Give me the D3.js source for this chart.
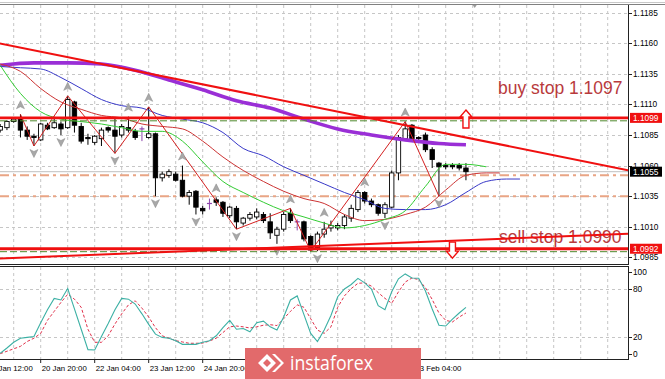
<!DOCTYPE html>
<html><head><meta charset="utf-8">
<script src="https://cdn.jsdelivr.net/npm/d3@7"></script>
<style>body{margin:0;background:#fff;}svg{display:block;}</style>
</head><body>
<svg id="c" width="665" height="379"></svg>
<script>
// ---------- DATA ----------
const opens  = [1.1089,1.1091,1.1096,1.1099,1.1089,1.1084,1.1081,1.1093,1.1091,1.1094,1.1091,1.1112,1.1092,1.1083,1.1079,1.1082,1.1091,1.1089,1.1085,1.1091,1.1088,1.1090,1.1083,1.1086,1.1050,1.1052,1.1053,1.1048,1.1035,1.1039,1.1025,1.1029,1.1032,1.1030,1.1019,1.1025,1.1013,1.1017,1.1018,1.1020,1.1014,1.1003,1.1008,1.1021,1.1014,1.1014,1.1002,1.0993,1.1004,1.1009,1.1009,1.1011,1.1017,1.1024,1.1038,1.1031,1.1028,1.1021,1.1026,1.1054,1.1082,1.1093,1.1083,1.1085,1.1073,1.1062,1.1060,1.1060,1.1060,1.1058];
const highs  = [1.1094,1.1097,1.1099,1.1102,1.1092,1.1086,1.1095,1.1095,1.1100,1.1096,1.1117,1.1113,1.1095,1.1086,1.1085,1.1091,1.1092,1.1099,1.1094,1.1100,1.1090,1.1092,1.1108,1.1087,1.1055,1.1057,1.1055,1.1060,1.1040,1.1040,1.1027,1.1033,1.1034,1.1031,1.1027,1.1027,1.1018,1.1022,1.1025,1.1022,1.1021,1.1010,1.1022,1.1025,1.1016,1.1015,1.1003,1.1006,1.1014,1.1015,1.1013,1.1020,1.1028,1.1040,1.1039,1.1033,1.1029,1.1030,1.1056,1.1085,1.1096,1.1094,1.1084,1.1087,1.1075,1.1063,1.1062,1.1062,1.1062,1.1062];
const lows   = [1.1087,1.1089,1.1095,1.1083,1.1081,1.1076,1.1080,1.1089,1.1090,1.1085,1.1090,1.1087,1.1078,1.1077,1.1077,1.1076,1.1087,1.1070,1.1083,1.1087,1.1081,1.1080,1.1082,1.1035,1.1047,1.1050,1.1047,1.1034,1.1028,1.1020,1.1020,1.1024,1.1027,1.1018,1.1017,1.1008,1.1011,1.1015,1.1016,1.1013,1.1000,1.0996,1.1006,1.1013,1.1007,1.0998,1.0990,1.0990,1.1001,1.1006,1.1007,1.1008,1.1014,1.1022,1.1029,1.1026,1.1019,1.1017,1.1025,1.1048,1.1080,1.1080,1.1081,1.1071,1.1058,1.1035,1.1057,1.1057,1.1056,1.1048];
const closes = [1.1092,1.1096,1.1098,1.1089,1.1084,1.1083,1.1094,1.1090,1.1095,1.1090,1.1114,1.1093,1.1080,1.1082,1.1084,1.1089,1.1089,1.1084,1.1092,1.1089,1.1083,1.1090,1.1086,1.1050,1.1053,1.1055,1.1048,1.1035,1.1038,1.1026,1.1023,1.1029,1.1030,1.1021,1.1026,1.1014,1.1017,1.1020,1.1022,1.1015,1.1005,1.1008,1.1020,1.1015,1.1014,1.1000,1.0991,1.1004,1.1008,1.1011,1.1011,1.1018,1.1025,1.1038,1.1031,1.1028,1.1021,1.1028,1.1054,1.1083,1.1090,1.1082,1.1082,1.1073,1.1065,1.1059,1.1059,1.1059,1.1058,1.1055];

const priceTicks = [1.1185,1.1160,1.1135,1.1110,1.1085,1.1060,1.1035,1.1010,1.0985];
const timeLabels = ["17 Jan 12:00","20 Jan 20:00","22 Jan 04:00","23 Jan 12:00","24 Jan 20:00","28 Jan 04:00","29 Jan 12:00","30 Jan 20:00","3 Feb 04:00"];
const timeLabelBars = [-2,6,14,22,30,38,46,54,62];

// thick purple moving average
const maBars = [0,5,10,15,20,25,30,35,40,45,50,55,60,65,69];
const maVals = [1.1142,1.1144,1.1144,1.1143,1.1138,1.1130,1.1122,1.1113,1.1107,1.1098,1.1090,1.1085,1.1081,1.1078,1.1077];

// Alligator (jaw / teeth / lips), shifted forward
const jawBars = [0,3,6,9,12,15,18,21,24,27,30,33,36,39,42,45,48,51,54,57,60,63,66,69,72,75,77];
const jawVals = [1.1141,1.1140,1.1139,1.1132,1.1123,1.1114,1.1109,1.1107,1.1101,1.1098,1.1095,1.1087,1.1074,1.1068,1.1059,1.1052,1.1045,1.1038,1.1032,1.1025,1.1024,1.1024,1.1028,1.1038,1.1047,1.1049,1.1049];
const teethBars = [0,3,6,9,12,15,18,21,24,27,30,33,36,39,42,45,48,51,54,57,60,63,66,69,72,74];
const teethVals = [1.1143,1.1137,1.1123,1.1112,1.1106,1.1101,1.1099,1.1094,1.1092,1.1090,1.1080,1.1067,1.1056,1.1047,1.1039,1.1033,1.1029,1.1020,1.1015,1.1016,1.1020,1.1026,1.1040,1.1052,1.1054,1.1054];
const lipsBars = [0,3,6,9,12,15,18,21,24,27,30,33,36,39,42,45,48,51,54,57,60,63,66,69,72];
const lipsVals = [1.1142,1.1119,1.1104,1.1098,1.1096,1.1094,1.1091,1.1088,1.1088,1.1080,1.1063,1.1047,1.1038,1.1030,1.1023,1.1018,1.1013,1.1009,1.1011,1.1016,1.1023,1.1043,1.1061,1.1061,1.1059];

const fractalUp = [3,10,19,22,27,32,43,48,54,60];
const fractalDown = [5,9,17,23,29,35,41,47,57,65];
const zigzagBars = [3,5,10,17,22,35,43,46,60,65];
const zigzagVals = [1.1102,1.1076,1.1117,1.1070,1.1108,1.1008,1.1025,1.0990,1.1096,1.1035];

// stochastic
const stochMain = [0.5,7,14,19,20,21,38,54,68,66,80,55,30,5,4.5,21,37,54,68,67,61,49,36,24,20,19,16,11.5,11.5,11.5,14,16,22,32,41,30,31,27,38,40,33,29,45,66,71,48,25,15,29,47,70,79.5,85,92.6,87,79.5,59,54,76,92,98,93,92.6,77,55,35,34,42.6,50,57];
const stochSignal = [0,3,6,9,15,19,25,41,52,63,73,67,57,30,14,14,22,36.5,49,60,65,56,45,32,22,19,16,14.4,12.8,12.8,13,15.6,19,26,33,34,33,31.6,33,35,35.6,34.6,43,52,60,57,43,29,25,33,57,71,80,86.5,87,83,75,68,62,76,88,93,91,81,66.6,50,41,39,45,50];
const stochLevels = [80,20];
const stochLabels = [100,80,20,0];

// chart objects
const hLinesRed = [1.1099,1.0992];
const pendingLines = [1.1097,1.0990];
const dashDotLines = [1.1052,1.1035];
const bid = 1.1055;
const trendDown = [[0,1.1160],[69,1.1083]];
const trendUp = [[0,1.0984],[69,1.0999]];

// ---------- SCALES ----------
const svg = d3.select("#c");
const W = 628;
const x = d3.scaleLinear().domain([0,69]).range([0.2, 0.2+69*6.75]);
const y = d3.scaleLinear().domain([1.0985,1.1185]).range([257.3,12.7]);
const ys = d3.scaleLinear().domain([0,100]).range([353.7,272.3]);
const fmt = d3.format(".4f");

const defs = svg.append("defs");
defs.append("clipPath").attr("id","cm").append("rect").attr("x",0).attr("y",5).attr("width",W).attr("height",258);
defs.append("clipPath").attr("id","cs").append("rect").attr("x",0).attr("y",267).attr("width",W).attr("height",92);

const gm = svg.append("g").attr("clip-path","url(#cm)");
const gs = svg.append("g").attr("clip-path","url(#cs)");

// grid
const gridBars = d3.range(2, 94, 4);
const gridCol = "#c6c6c6";
gm.selectAll("line.vg").data(gridBars).join("line")
  .attr("x1",d=>x(d)).attr("x2",d=>x(d)).attr("y1",5).attr("y2",263)
  .attr("stroke",gridCol).attr("stroke-dasharray","3,3");
gm.selectAll("line.hg").data(priceTicks).join("line")
  .attr("x1",0).attr("x2",W).attr("y1",d=>Math.round(y(d))+0.5).attr("y2",d=>Math.round(y(d))+0.5)
  .attr("stroke",gridCol).attr("stroke-dasharray","3,3");
gs.selectAll("line.vg").data(gridBars).join("line")
  .attr("x1",d=>x(d)).attr("x2",d=>x(d)).attr("y1",267).attr("y2",359)
  .attr("stroke",gridCol).attr("stroke-dasharray","3,3");
gs.selectAll("line.hg").data(stochLevels).join("line")
  .attr("x1",0).attr("x2",W).attr("y1",d=>Math.round(ys(d))+0.5).attr("y2",d=>Math.round(ys(d))+0.5)
  .attr("stroke",gridCol).attr("stroke-dasharray","3,3");

// bid line & dash-dot levels
gm.append("line").attr("x1",0).attr("x2",W).attr("y1",y(bid)).attr("y2",y(bid)).attr("stroke","#c0c0c0");
gm.selectAll("line.dd").data(dashDotLines).join("line")
  .attr("x1",0).attr("x2",W).attr("y1",d=>y(d)).attr("y2",d=>y(d))
  .attr("stroke","#e9a585").attr("stroke-width",2).attr("stroke-dasharray","9,4,3,4");

// candles
const bars = d3.range(opens.length);
const cg = gm.append("g");
cg.selectAll("line.w").data(bars).join("line")
  .attr("x1",i=>x(i)).attr("x2",i=>x(i)).attr("y1",i=>y(highs[i])).attr("y2",i=>y(lows[i]))
  .attr("stroke",i=>opens[i]===closes[i]?"#8e44ad":"#000").attr("stroke-width",1);
cg.selectAll("rect.b").data(bars.filter(i=>opens[i]!==closes[i])).join("rect")
  .attr("x",i=>x(i)-2.2).attr("width",4.4)
  .attr("y",i=>y(Math.max(opens[i],closes[i])))
  .attr("height",i=>Math.max(1,Math.abs(y(opens[i])-y(closes[i]))))
  .attr("fill",i=>closes[i]>opens[i]?"#fff":"#000").attr("stroke","#000").attr("stroke-width",0.9);
cg.selectAll("line.d").data(bars.filter(i=>opens[i]===closes[i])).join("line")
  .attr("x1",i=>x(i)-2.5).attr("x2",i=>x(i)+2.5).attr("y1",i=>y(opens[i])).attr("y2",i=>y(opens[i]))
  .attr("stroke","#8e44ad").attr("stroke-width",1.2);

// indicator lines
const line = d3.line().x(d=>x(d[0])).y(d=>y(d[1])).curve(d3.curveMonotoneX);
gm.append("path").attr("d",line(d3.zip(maBars,maVals))).attr("fill","none").attr("stroke","#9a2fd6").attr("stroke-width",3.6);
gm.append("path").attr("d",line(d3.zip(jawBars,jawVals))).attr("fill","none").attr("stroke","#3838c8").attr("stroke-width",1);
gm.append("path").attr("d",line(d3.zip(teethBars,teethVals))).attr("fill","none").attr("stroke","#cc3333").attr("stroke-width",1);
gm.append("path").attr("d",line(d3.zip(lipsBars,lipsVals))).attr("fill","none").attr("stroke","#33cc33").attr("stroke-width",1);

// zigzag
const zl = d3.line().x(d=>x(d[0])).y(d=>y(d[1]));
gm.append("path").attr("d",zl(d3.zip(zigzagBars,zigzagVals))).attr("fill","none").attr("stroke","#d42020").attr("stroke-width",1);

// fractals
const upA = "M0,-4.5 L4,3.5 L0,1.5 L-4,3.5 Z";
const dnA = "M0,4.5 L4,-3.5 L0,-1.5 L-4,-3.5 Z";
gm.selectAll("path.fu").data(fractalUp).join("path")
  .attr("d",upA).attr("transform",i=>`translate(${x(i)},${y(highs[i])-9})`)
  .attr("fill","#a8a8a8").attr("stroke","#8a8a8a").attr("stroke-width",0.5);
gm.selectAll("path.fd").data(fractalDown).join("path")
  .attr("d",dnA).attr("transform",i=>`translate(${x(i)},${y(lows[i])+7})`)
  .attr("fill","#a8a8a8").attr("stroke","#8a8a8a").attr("stroke-width",0.5);

// horizontal object lines
gm.selectAll("line.pl").data(pendingLines).join("line")
  .attr("x1",0).attr("x2",W).attr("y1",d=>y(d)+0.5).attr("y2",d=>y(d)+0.5)
  .attr("stroke","#4f8a2e").attr("stroke-width",1).attr("stroke-dasharray","7,3");
gm.selectAll("line.hr").data(hLinesRed).join("line")
  .attr("x1",0).attr("x2",W).attr("y1",d=>y(d)).attr("y2",d=>y(d))
  .attr("stroke","#f01010").attr("stroke-width",2.8);

// texts
gm.append("text").attr("x",498).attr("y",94.3).text("buy stop 1.1097")
  .attr("font-family","Liberation Sans, Arial, sans-serif").attr("font-size",17.5).attr("fill","#b83a3c");
gm.append("text").attr("x",499).attr("y",242.5).text("sell stop 1.0990")
  .attr("font-family","Liberation Sans, Arial, sans-serif").attr("font-size",17.5).attr("fill","#b83a3c");

// trend lines (rays to the right edge)
function ray(pts){
  const [a,b]=pts; const s=(b[1]-a[1])/(b[0]-a[0]);
  const xe = x.invert(W); return [[a[0],a[1]],[xe,a[1]+s*(xe-a[0])]];
}
[trendDown,trendUp].forEach(t=>{
  const r = ray(t);
  gm.append("line").attr("x1",x(r[0][0])-1).attr("y1",y(r[0][1])).attr("x2",x(r[1][0])).attr("y2",y(r[1][1]))
    .attr("stroke","#f01010").attr("stroke-width",2);
});

// stop arrows
function upArrow(cx,top){return `M${cx},${top} L${cx+6},${top+7} L${cx+3},${top+7} L${cx+3},${top+18} L${cx-3},${top+18} L${cx-3},${top+7} L${cx-6},${top+7} Z`;}
function dnArrow(cx,bot){return `M${cx},${bot} L${cx+6},${bot-7} L${cx+3},${bot-7} L${cx+3},${bot-16} L${cx-3},${bot-16} L${cx-3},${bot-7} L${cx-6},${bot-7} Z`;}
gm.append("path").attr("d",upArrow(x(69),y(1.11054))).attr("fill","#fff").attr("stroke","#f01010").attr("stroke-width",1.4);
gm.append("path").attr("d",dnArrow(x(67),y(1.09843))).attr("fill","#fff").attr("stroke","#f01010").attr("stroke-width",1.4);

// chart shift marker
svg.append("path").attr("d",`M${x(70)},5 L${x(70)+4},5 L${x(70)+2},8 Z`).attr("fill","#9a9a9a");

// stochastic
const sl = d3.line().x((d,i)=>x(i)).y(d=>ys(d));
gs.append("path").attr("d",sl(stochSignal)).attr("fill","none").attr("stroke","#e0304a").attr("stroke-width",1).attr("stroke-dasharray","3,2");
gs.append("path").attr("d",sl(stochMain)).attr("fill","none").attr("stroke","#3cb0a4").attr("stroke-width",1.1);

// frames
svg.append("line").attr("x1",0).attr("x2",665).attr("y1",2.5).attr("y2",2.5).attr("stroke","#c8c8c8");
svg.append("line").attr("x1",0).attr("x2",665).attr("y1",4.5).attr("y2",4.5).attr("stroke","#808080");
svg.append("line").attr("x1",0).attr("x2",W+1).attr("y1",264.5).attr("y2",264.5).attr("stroke","#222");
svg.append("line").attr("x1",0).attr("x2",W+1).attr("y1",266.5).attr("y2",266.5).attr("stroke","#222");
svg.append("line").attr("x1",0).attr("x2",W+1).attr("y1",359.5).attr("y2",359.5).attr("stroke","#222");
svg.append("line").attr("x1",W+0.5).attr("x2",W+0.5).attr("y1",5).attr("y2",264).attr("stroke","#222");
svg.append("line").attr("x1",W+0.5).attr("x2",W+0.5).attr("y1",266).attr("y2",360).attr("stroke","#222");

// price axis
const fnt = "Liberation Sans, Arial, sans-serif";
const pa = svg.append("g");
pa.selectAll("line").data(priceTicks).join("line")
  .attr("x1",W+1).attr("x2",W+4).attr("y1",d=>Math.round(y(d))+0.5).attr("y2",d=>Math.round(y(d))+0.5).attr("stroke","#222");
pa.selectAll("text").data(priceTicks).join("text")
  .attr("x",633).attr("y",d=>y(d)+3).text(d=>fmt(d))
  .attr("font-family",fnt).attr("font-size",8.3).attr("fill","#000");

// colored price labels
const boxes = [{p:1.1099,c:"#f01010"},{p:bid,c:"#000"},{p:1.0992,c:"#f01010"}];
boxes.forEach(b=>{
  svg.append("rect").attr("x",630).attr("y",y(b.p)-5).attr("width",32).attr("height",10).attr("fill",b.c);
  svg.append("text").attr("x",633).attr("y",y(b.p)+3).text(fmt(b.p))
    .attr("font-family",fnt).attr("font-size",8.3).attr("fill","#fff");
});

// stoch axis
svg.selectAll("text.sa").data(stochLabels).join("text")
  .attr("x",633).attr("y",d=>ys(d)+3).text(d=>d)
  .attr("font-family",fnt).attr("font-size",8.3).attr("fill","#000");
svg.selectAll("line.sat").data(stochLabels).join("line")
  .attr("x1",W+1).attr("x2",W+4).attr("y1",d=>Math.round(ys(d))+0.5).attr("y2",d=>Math.round(ys(d))+0.5).attr("stroke","#222");

// time axis
svg.selectAll("line.tt").data(timeLabelBars).join("line")
  .attr("x1",d=>x(d)).attr("x2",d=>x(d)).attr("y1",360).attr("y2",363).attr("stroke","#222");
svg.selectAll("text.tl").data(timeLabels).join("text")
  .attr("x",(d,i)=>x(timeLabelBars[i])+1).attr("y",370.5).text(d=>d)
  .attr("font-family",fnt).attr("font-size",7.8).attr("fill","#000");

// instaforex watermark
const wm = svg.append("g");
wm.append("rect").attr("x",245).attr("y",348).attr("width",176).attr("height",31).attr("fill","#e26a6b");
wm.append("path").attr("d","M258,363 L267,354 L276,363 L267,372 Z M263,363 L267,359 L271,363 L267,367 Z").attr("fill","#fff").attr("fill-rule","evenodd");
wm.append("path").attr("d","M272,354 L281,363 L272,372 L275,372 L284,363 L275,354 Z").attr("fill","#fff");
wm.append("text").attr("x",290).attr("y",370).text("instaforex")
  .attr("font-family","Open Sans, sans-serif").attr("font-size",20).attr("fill","#fff")
  .attr("textLength",83).attr("lengthAdjust","spacingAndGlyphs");
</script>
</body></html>
